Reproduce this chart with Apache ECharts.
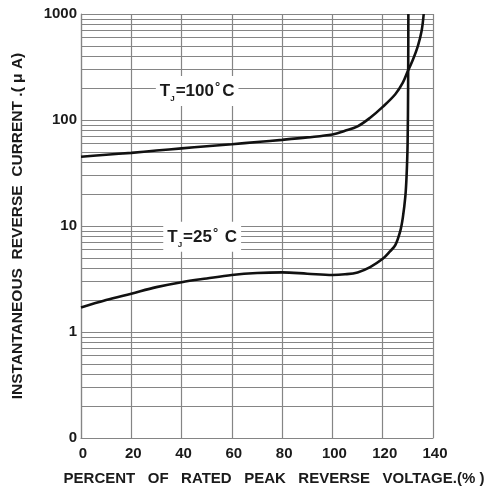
<!DOCTYPE html>
<html>
<head>
<meta charset="utf-8">
<script src="https://cdn.jsdelivr.net/npm/echarts@6/dist/echarts.min.js"></script>
<style>
html,body{margin:0;padding:0;background:#fff;}
#c{width:487px;height:490px;}
</style>
</head>
<body>
<div id="c"></div>
<script>
// Percent of rated peak reverse voltage (%) and instantaneous reverse current (uA)
const x100 = [0, 10, 20, 30, 40, 50, 60, 70, 80, 90, 100, 105, 110, 115, 120, 125, 128, 130, 132, 134, 135.5, 136.3];
const y100 = [45, 47, 49, 51.5, 54, 56.5, 59, 62, 65, 68.5, 73, 79, 87, 105, 133, 175, 225, 290, 370, 500, 700, 1000];
const x25 = [0, 10, 20, 30, 40, 50, 60, 70, 80, 90, 100, 105, 110, 115, 120, 123, 125, 127, 128, 129, 129.5, 129.9, 130.1, 130.2];
const y25 = [1.7, 2.0, 2.3, 2.65, 2.95, 3.2, 3.45, 3.6, 3.65, 3.55, 3.45, 3.5, 3.65, 4.1, 4.9, 5.8, 6.6, 9, 12, 19, 30, 60, 200, 1000];
const xTicks = [0, 20, 40, 60, 80, 100, 120, 140];
const yTicks = ['0', '1', '10', '100', '1000'];
const minorGrid = [0.2, 0.3, 0.4, 0.5, 0.6, 0.7, 0.8, 0.9,
                   2, 3, 4, 5, 6, 7, 8, 9,
                   20, 30, 40, 50, 60, 70, 80, 90,
                   200, 300, 400, 500, 600, 700, 800, 900];
const labelTemps = ['100', '25'];
const labelUnits = ['C', ' C'];
const labelPos = [[46.2, 187.6], [48.2, 7.9]];

const FONT = '"Liberation Sans", Arial, sans-serif';
const TXT = '#1a1a1a';
const GRID = '#858585';

function pairs(xs, ys) { return xs.map((x, i) => [x, ys[i]]); }

function labelPoint(pos, temp, unit) {
  return {
    coord: pos,
    symbol: 'rect',
    symbolSize: 1,
    itemStyle: { color: 'rgba(0,0,0,0)' },
    label: {
      show: true,
      position: 'inside',
      backgroundColor: '#fff',
      padding: [5, 4, 5, 4],
      formatter: '{t|T}{s|J}{t|=' + temp + '}{d|°}{t|' + unit + '}',
      rich: {
        t: { fontFamily: FONT, fontWeight: 'bold', fontSize: 17, color: TXT, lineHeight: 20 },
        s: { fontFamily: FONT, fontWeight: 'bold', fontSize: 8, color: TXT, lineHeight: 20, verticalAlign: 'bottom', padding: [0, 1, -2, 0] },
        d: { fontFamily: FONT, fontWeight: 'bold', fontSize: 13, color: TXT, lineHeight: 20, verticalAlign: 'top', padding: [0, 2, 0, 1] }
      }
    }
  };
}

const chart = echarts.init(document.getElementById('c'), null, { renderer: 'canvas' });
chart.setOption({
  animation: false,
  backgroundColor: '#fff',
  grid: { left: 81, right: 54, top: 14, bottom: 52, containLabel: false, outerBoundsMode: 'none' },
  xAxis: {
    type: 'value',
    min: xTicks[0],
    max: xTicks[xTicks.length - 1],
    interval: xTicks[1] - xTicks[0],
    name: 'PERCENT   OF   RATED   PEAK   REVERSE   VOLTAGE.(% )',
    nameLocation: 'middle',
    nameGap: 33,
    nameTextStyle: { fontFamily: FONT, fontWeight: 'bold', fontSize: 15, color: TXT, padding: [0, 0, 0, 34] },
    axisLine: { show: true, lineStyle: { color: GRID, width: 1.2 } },
    axisTick: { show: false },
    axisLabel: { fontFamily: FONT, fontWeight: 'bold', fontSize: 15, color: TXT, margin: 8, padding: [0, 0, 0, 4] },
    splitLine: { show: true, lineStyle: { color: GRID, width: 1.2 } }
  },
  yAxis: {
    type: 'log',
    logBase: 10,
    min: 0.1,
    max: 1000,
    name: 'INSTANTANEOUS  REVERSE  CURRENT .( μ A)',
    nameLocation: 'middle',
    nameGap: 55,
    nameTextStyle: { fontFamily: FONT, fontWeight: 'bold', fontSize: 15.5, color: TXT },
    axisLine: { show: true, lineStyle: { color: GRID, width: 1.2 } },
    axisTick: { show: false },
    axisLabel: {
      fontFamily: FONT, fontWeight: 'bold', fontSize: 15, color: TXT, margin: 4,
      padding: [7, 0, 0, 0],
      formatter: function (v) {
        const i = Math.round(Math.log10(v)) + 1;
        return yTicks[i] !== undefined ? yTicks[i] : '';
      }
    },
    splitLine: { show: true, lineStyle: { color: GRID, width: 1.2 } },
    minorTick: { show: false },
    minorSplitLine: { show: false }
  },
  series: [
    {
      name: 'grid',
      type: 'line',
      data: [],
      silent: true,
      z: 1,
      markLine: {
        silent: true,
        symbol: ['none', 'none'],
        label: { show: false },
        lineStyle: { color: GRID, width: 1.2, type: 'solid' },
        emphasis: { disabled: true },
        data: minorGrid.map(v => ({ yAxis: v }))
      }
    },
    {
      name: 'TJ=100C',
      type: 'line',
      data: pairs(x100, y100),
      showSymbol: false,
      smooth: 0.35,
      lineStyle: { color: '#111', width: 2.6 },
      markPoint: { silent: true, data: [labelPoint(labelPos[0], labelTemps[0], labelUnits[0])] },
      z: 5
    },
    {
      name: 'TJ=25C',
      type: 'line',
      data: pairs(x25, y25),
      showSymbol: false,
      smooth: 0.35,
      lineStyle: { color: '#111', width: 2.6 },
      markPoint: { silent: true, data: [labelPoint(labelPos[1], labelTemps[1], labelUnits[1])] },
      z: 5
    }
  ]
});
</script>
</body>
</html>
